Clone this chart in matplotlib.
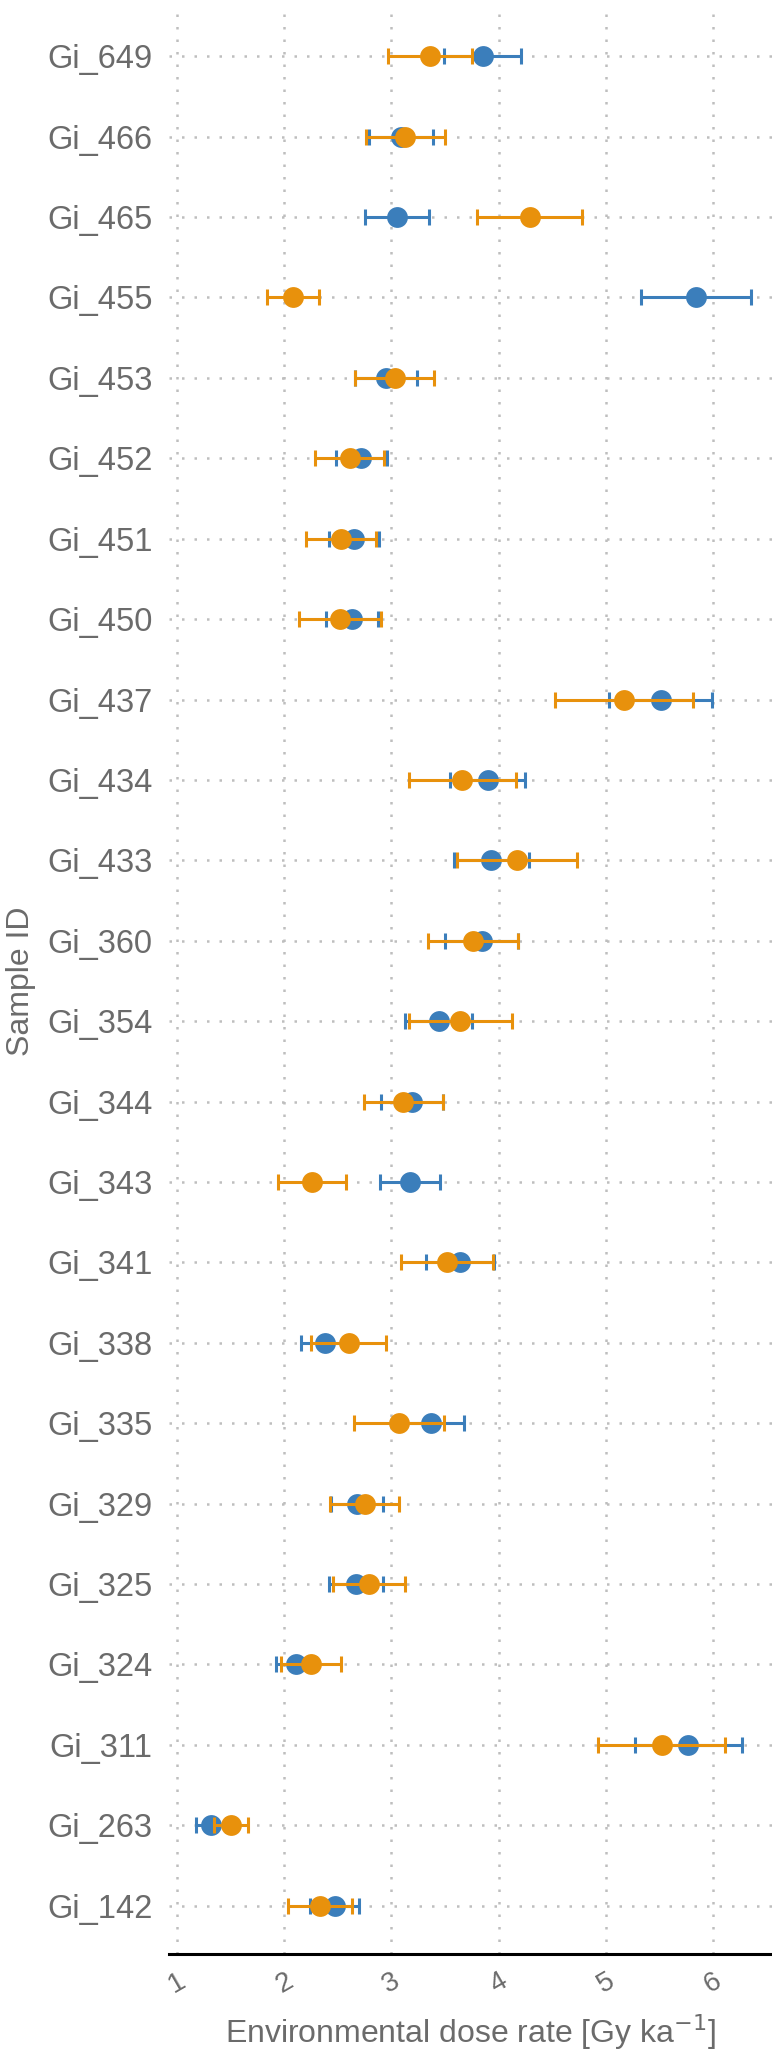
import numpy as np
import matplotlib
matplotlib.use("Agg")
import matplotlib.pyplot as plt

plt.rcParams['font.family'] = ['Liberation Sans', 'DejaVu Sans']

# samples, top to bottom
samples = ["Gi_649", "Gi_466", "Gi_465", "Gi_455", "Gi_453", "Gi_452", "Gi_451",
           "Gi_450", "Gi_437", "Gi_434", "Gi_433", "Gi_360", "Gi_354", "Gi_344",
           "Gi_343", "Gi_341", "Gi_338", "Gi_335", "Gi_329", "Gi_325", "Gi_324",
           "Gi_311", "Gi_263", "Gi_142"]

# blue series (value, error)
blue_val = [3.85, 3.09, 3.05, 5.84, 2.95, 2.72, 2.65, 2.63, 5.51, 3.90, 3.93, 3.84,
            3.44, 3.19, 3.17, 3.64, 2.38, 3.37, 2.68, 2.67, 2.11, 5.77, 1.32, 2.47]
blue_err = [0.36, 0.30, 0.30, 0.51, 0.29, 0.24, 0.23, 0.24, 0.48, 0.35, 0.35, 0.34,
            0.31, 0.29, 0.28, 0.32, 0.22, 0.31, 0.24, 0.25, 0.19, 0.50, 0.14, 0.23]

# orange series (value, error)
orange_val = [3.36, 3.13, 4.29, 2.08, 3.03, 2.61, 2.53, 2.52, 5.17, 3.66, 4.17, 3.76,
              3.64, 3.11, 2.26, 3.52, 2.60, 3.07, 2.75, 2.79, 2.25, 5.52, 1.50, 2.33]
orange_err = [0.39, 0.37, 0.49, 0.24, 0.37, 0.32, 0.33, 0.38, 0.64, 0.50, 0.56, 0.42,
              0.48, 0.37, 0.32, 0.43, 0.35, 0.42, 0.32, 0.34, 0.28, 0.59, 0.16, 0.30]

blue = "#3B7EBB"
orange = "#E8910C"
grey = "#6B6B6B"

y = np.arange(len(samples))[::-1]

fig = plt.figure(figsize=(7.72, 20.49), dpi=100)
ax = fig.add_axes([0.219, 0.0464, 0.781, 0.9497])

ax.errorbar(blue_val, y, xerr=blue_err, fmt='none', ecolor=blue, elinewidth=2.2,
            capsize=5.7, capthick=2.2, zorder=3)
ax.plot(blue_val, y, 'o', color=blue, markersize=15, markeredgewidth=0, zorder=4)
ax.errorbar(orange_val, y, xerr=orange_err, fmt='none', ecolor=orange, elinewidth=2.2,
            capsize=5.7, capthick=2.2, zorder=5)
ax.plot(orange_val, y, 'o', color=orange, markersize=15, markeredgewidth=0, zorder=6)

ax.set_xlim(0.925, 6.55)
ax.set_ylim(-0.6, len(samples) - 0.4)
ax.set_xticks([1, 2, 3, 4, 5, 6])
ax.set_yticks(y)
ax.set_yticklabels(samples)

ax.grid(True, color="#BEBEBE", linestyle=(0, (1, 4)), linewidth=1.8)
ax.set_axisbelow(True)

for s in ['top', 'right', 'left']:
    ax.spines[s].set_visible(False)
ax.spines['bottom'].set_linewidth(2.2)
ax.spines['bottom'].set_color('black')

ax.tick_params(axis='both', length=0)
ax.tick_params(axis='y', labelsize=23.5, labelcolor=grey, pad=12)
ax.tick_params(axis='x', labelsize=20, labelcolor=grey, pad=21)
for lab in ax.get_xticklabels():
    lab.set_rotation(30)
    lab.set_rotation_mode('anchor')
    lab.set_ha('center')
    lab.set_va('center')

ax.set_xlabel("Environmental dose rate [Gy ka$^{-1}$]", fontsize=23, color=grey, labelpad=10)
ax.set_ylabel("Sample ID", fontsize=23, color=grey, labelpad=8)

fig.savefig("out.png", dpi=100)
